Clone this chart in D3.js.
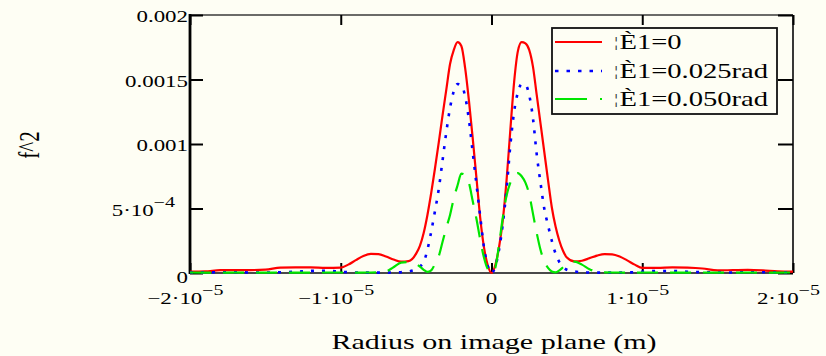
<!DOCTYPE html>
<html>
<head>
<meta charset="utf-8">
<script src="https://cdn.jsdelivr.net/npm/d3@7"></script>
<style>
  html, body { margin: 0; padding: 0; background: #fefef4; }
  svg { display: block; font-family: "Liberation Serif", "Times New Roman", serif; }
</style>
</head>
<body>
<svg id="chart" width="826" height="356"></svg>
<script>
// Radius on the image plane, in micrometres (x 1e-6 m)
const radiusUm = [
  -20, -19, -18, -17, -16, -15, -14, -13, -12, -11, -10,
  -9.5, -9, -8.5, -8, -7.5, -7, -6.5, -6, -5.5, -5,
  -4.75, -4.5, -4.25, -4, -3.75, -3.5, -3.25, -3, -2.75, -2.5, -2.25, -2, -1.75, -1.5, -1.25, -1, -0.75, -0.5, -0.25,
  0,
  0.25, 0.5, 0.75, 1, 1.25, 1.5, 1.75, 2, 2.25, 2.5, 2.75, 3, 3.25, 3.5, 3.75, 4, 4.25, 4.5, 4.75,
  5, 5.5, 6, 6.5, 7, 7.5, 8, 8.5, 9, 9.5,
  10, 11, 12, 13, 14, 15, 16, 17, 18, 19, 20
];

// f^2 for each tilt, in units of 1e-3
const fSqTheta0 = [
  0.010, 0.012, 0.022, 0.023, 0.023, 0.026, 0.042, 0.044, 0.044, 0.040, 0.042,
  0.065, 0.100, 0.132, 0.148, 0.146, 0.128, 0.105, 0.088, 0.092, 0.150,
  0.210, 0.310, 0.450, 0.620, 0.810, 1.010, 1.220, 1.420, 1.620, 1.730, 1.790, 1.760, 1.590, 1.340, 1.050, 0.740, 0.430, 0.200, 0.060,
  0,
  0.060, 0.200, 0.410, 0.720, 1.110, 1.480, 1.720, 1.790, 1.780, 1.730, 1.600, 1.380, 1.160, 0.940, 0.720, 0.510, 0.360, 0.250, 0.170,
  0.120, 0.090, 0.095, 0.115, 0.135, 0.147, 0.145, 0.128, 0.098, 0.065,
  0.040, 0.040, 0.044, 0.042, 0.035, 0.020, 0.022, 0.024, 0.020, 0.012, 0.010
];
const fSqTheta025 = [
  0.004, 0.004, 0.006, 0.006, 0.004, 0.004, 0.006, 0.010, 0.016, 0.018, 0.010,
  0.006, 0.004, 0.003, 0.003, 0.003, 0.003, 0.004, 0.006, 0.012, 0.030,
  0.050, 0.085, 0.180, 0.320, 0.480, 0.650, 0.870, 1.090, 1.280, 1.410, 1.465, 1.455, 1.370, 1.190, 0.940, 0.690, 0.440, 0.200, 0.055,
  0,
  0.050, 0.180, 0.380, 0.650, 0.990, 1.250, 1.400, 1.465, 1.460, 1.380, 1.200, 0.920, 0.700, 0.500, 0.370, 0.250, 0.150, 0.085, 0.045,
  0.025, 0.012, 0.006, 0.004, 0.003, 0.003, 0.003, 0.003, 0.004, 0.006,
  0.010, 0.016, 0.016, 0.010, 0.006, 0.004, 0.004, 0.006, 0.006, 0.004, 0.004
];
const fSqTheta050 = [
  0.004, 0.003, 0.003, 0.004, 0.003, 0.003, 0.004, 0.003, 0.003, 0.004, 0.004,
  0.003, 0.003, 0.004, 0.004, 0.005, 0.012, 0.045, 0.080, 0.085, 0.068,
  0.050, 0.025, 0.008, 0.020, 0.070, 0.130, 0.240, 0.350, 0.450, 0.580, 0.680, 0.770, 0.760, 0.700, 0.560, 0.420, 0.260, 0.120, 0.030,
  0,
  0.040, 0.220, 0.430, 0.600, 0.700, 0.760, 0.775, 0.750, 0.700, 0.610, 0.460, 0.310, 0.180, 0.090, 0.040, 0.012, 0.005, 0.020, 0.045,
  0.070, 0.088, 0.065, 0.030, 0.010, 0.005, 0.004, 0.004, 0.003, 0.003,
  0.004, 0.004, 0.003, 0.003, 0.004, 0.003, 0.003, 0.004, 0.003, 0.003, 0.004
];

const seriesLabels = ["¦È1=0", "¦È1=0.025rad", "¦È1=0.050rad"];

const xTickValues = [-20, -10, 0, 10, 20];
const xTickMantissa = ["\u22122\u00b710", "\u22121\u00b710", "0", "1\u00b710", "2\u00b710"];
const xTickExponent = ["\u22125", "\u22125", "", "\u22125", "\u22125"];

const yTickValues = [0, 0.5, 1, 1.5, 2];
const yTickMantissa = ["0", "5\u00b710", "0.001", "0.0015", "0.002"];
const yTickExponent = ["", "\u22124", "", "", ""];

const xTitle = "Radius on image plane (m)";
const yTitle = "f^2";

// ---- drawing ----
const svg = d3.select("#chart");
const plot = { left: 190, right: 793, top: 15, bottom: 273 };
const SX = 1.43;   // wide lettering of the plot text

const x = d3.scaleLinear().domain([-20, 20]).range([plot.left, plot.right]);
const y = d3.scaleLinear().domain([0, 2]).range([plot.bottom, plot.top]);

// frame
const frame = svg.append("g");
frame.append("line").attr("x1", plot.left).attr("x2", plot.right).attr("y1", plot.top).attr("y2", plot.top)
  .attr("stroke", "#3a3a3a").attr("stroke-width", 1.6);
frame.append("line").attr("x1", plot.right).attr("x2", plot.right).attr("y1", plot.top).attr("y2", plot.bottom)
  .attr("stroke", "#222").attr("stroke-width", 1.8);
frame.append("line").attr("x1", plot.left).attr("x2", plot.right).attr("y1", plot.bottom).attr("y2", plot.bottom)
  .attr("stroke", "#4a4a4a").attr("stroke-width", 2.2);
frame.append("line").attr("x1", plot.left).attr("x2", plot.left).attr("y1", plot.top - 1).attr("y2", plot.bottom + 1)
  .attr("stroke", "#000").attr("stroke-width", 2.8);

// inward ticks on all four sides
function tickAxis(axis, tx, ty) {
  const g = svg.append("g").attr("transform", `translate(${tx},${ty})`).call(axis);
  g.select(".domain").remove();
  g.selectAll(".tick line").attr("stroke", "#000").attr("stroke-width", 2);
  g.selectAll(".tick text").remove();
}
tickAxis(d3.axisBottom(x).tickValues(xTickValues).tickSizeInner(-10).tickSizeOuter(0), 0, plot.bottom);
tickAxis(d3.axisTop(x).tickValues(xTickValues).tickSizeInner(-10).tickSizeOuter(0), 0, plot.top);
tickAxis(d3.axisLeft(y).tickValues(yTickValues).tickSizeInner(-13).tickSizeOuter(0), plot.left, 0);
tickAxis(d3.axisRight(y).tickValues(yTickValues).tickSizeInner(-15).tickSizeOuter(0), plot.right, 0);

// stretched text helper: base part plus optional superscript
function label(px, py, anchor, size, base, sup, supSize, rotate) {
  const g = svg.append("g")
    .attr("transform", `translate(${px},${py}) scale(${SX},1)` + (rotate ? ` rotate(${rotate})` : ""));
  const t = g.append("text").attr("text-anchor", anchor).attr("font-size", size).attr("fill", "#000");
  t.append("tspan").text(base);
  if (sup) t.append("tspan").attr("dy", -9).attr("font-size", supSize).text(sup);
  return t;
}

// x tick labels
xTickValues.forEach((v, i) => {
  const shift = xTickExponent[i] ? -4.5 : 0;
  label(x(v) + shift, 304, "middle", 16, xTickMantissa[i], xTickExponent[i], 14);
});

// y tick labels
yTickValues.forEach((v, i) => {
  const hasExp = !!yTickExponent[i];
  const dy = v === 0 ? 10 : 7;
  label(hasExp ? 175 : 188, y(v) + dy, "end", 16, yTickMantissa[i], yTickExponent[i], 14);
});

// axis titles
label(494, 349, "middle", 21, xTitle);
label(39, 145, "middle", 21, yTitle, null, null, -90);

// curves
const series = [
  { values: fSqTheta0,   color: "#ff0000", width: 2.2, dash: null,    legendDash: null },
  { values: fSqTheta025, color: "#0000ff", width: 2.6, dash: "3,8",   legendDash: "3.5,8" },
  { values: fSqTheta050, color: "#00e600", width: 2.2, dash: "21,12", legendDash: "32,13" }
];

const line = d3.line()
  .x(d => x(d[0]))
  .y(d => y(d[1]))
  .curve(d3.curveMonotoneX);

const curves = svg.append("g");
series.forEach(s => {
  curves.append("path")
    .datum(radiusUm.map((r, i) => [r, s.values[i]]))
    .attr("d", line)
    .attr("fill", "none")
    .attr("stroke", s.color)
    .attr("stroke-width", s.width)
    .attr("stroke-linejoin", "round")
    .attr("stroke-dasharray", s.dash);
});

// legend
const legend = svg.append("g");
legend.append("rect")
  .attr("x", 552).attr("y", 28).attr("width", 225).attr("height", 86)
  .attr("fill", "#fefef4").attr("stroke", "#111").attr("stroke-width", 1.8);
const legendRows = [42, 71, 99];
series.forEach((s, i) => {
  legend.append("line")
    .attr("x1", 555).attr("x2", 602)
    .attr("y1", legendRows[i]).attr("y2", legendRows[i])
    .attr("stroke", s.color).attr("stroke-width", s.width)
    .attr("stroke-dasharray", s.legendDash);
  // the leading bar glyph is set a little smaller than the rest of the entry
  const g = legend.append("g")
    .attr("transform", `translate(614,${legendRows[i] + 6.5}) scale(${SX},1)`);
  const t = g.append("text").attr("font-size", 20).attr("fill", "#000");
  t.append("tspan").attr("font-size", 15).attr("dy", -1.5).attr("fill", "#333").text(seriesLabels[i].slice(0, 1));
  t.append("tspan").attr("dy", 1.5).attr("dx", 0.8).text(seriesLabels[i].slice(1));
});
</script>
</body>
</html>
